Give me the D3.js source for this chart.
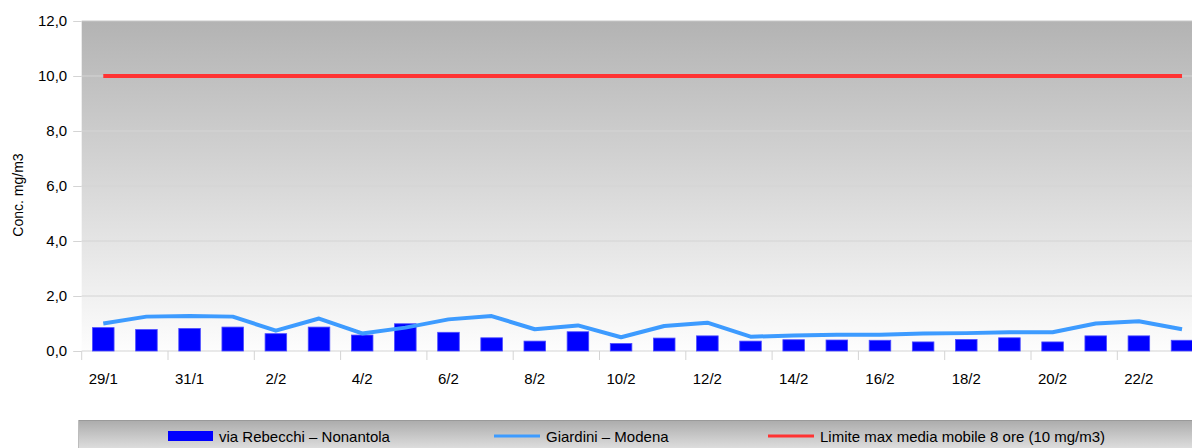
<!DOCTYPE html>
<html lang="it">
<head>
<meta charset="UTF-8">
<title>Conc. mg/m3</title>
<script src="https://cdn.jsdelivr.net/npm/d3@7"></script>
<style>
  body { margin: 0; background: #fff; }
  text { font-family: "Liberation Sans", Arial, sans-serif; fill: #000; }
</style>
</head>
<body>
<script>
// giorni (29/1 - 23/2)
const dates = ["29/1","30/1","31/1","1/2","2/2","3/2","4/2","5/2","6/2","7/2","8/2","9/2","10/2",
  "11/2","12/2","13/2","14/2","15/2","16/2","17/2","18/2","19/2","20/2","21/2","22/2","23/2"];

// via Rebecchi - Nonantola (barre)
const rebecchi = [0.85,0.78,0.82,0.87,0.63,0.87,0.58,0.99,0.68,0.48,0.36,0.70,0.27,
  0.47,0.55,0.36,0.41,0.40,0.39,0.33,0.42,0.48,0.33,0.55,0.55,0.39];

// Giardini - Modena (linea)
const giardini = [1.00,1.25,1.27,1.25,0.74,1.18,0.64,0.85,1.15,1.27,0.79,0.93,0.50,
  0.91,1.03,0.52,0.56,0.59,0.59,0.64,0.65,0.68,0.68,1.00,1.08,0.79];

// limite 10 mg/m3
const limite = dates.map(function () { return 10; });

const yTicks = [0, 2, 4, 6, 8, 10, 12];

const w = 1192, h = 448;
const pLeft = 81.7, pRight = 1203.6, pTop = 21, pBottom = 351;

const svg = d3.select("body").append("svg")
    .attr("width", w)
    .attr("height", h);

const defs = svg.append("defs");
const wall = defs.append("linearGradient").attr("id", "wall")
    .attr("x1", 0).attr("y1", 0).attr("x2", 0).attr("y2", 1);
wall.append("stop").attr("offset", "0%").attr("stop-color", "#b3b3b3");
wall.append("stop").attr("offset", "100%").attr("stop-color", "#fdfdfd");

const leg = defs.append("linearGradient").attr("id", "leg")
    .attr("x1", 0).attr("y1", 0).attr("x2", 0).attr("y2", 1);
leg.append("stop").attr("offset", "0%").attr("stop-color", "#ababab");
leg.append("stop").attr("offset", "100%").attr("stop-color", "#f2f2f2");

// scale
const xScale = d3.scaleBand()
    .domain(dates)
    .range([pLeft, pRight])
    .paddingInner(0.5)
    .paddingOuter(0.25);

const step = xScale.step();
const cx = function (d) { return xScale(d) + xScale.bandwidth() / 2; };

const yScale = d3.scaleLinear()
    .domain([0, 12])
    .range([pBottom, pTop]);

// sfondo area grafico
svg.append("rect")
    .attr("x", pLeft).attr("y", pTop)
    .attr("width", pRight - pLeft).attr("height", pBottom - pTop)
    .attr("fill", "url(#wall)");

// griglia
svg.append("g").selectAll("line")
    .data(yTicks)
    .enter().append("line")
    .attr("x1", pLeft).attr("x2", pRight)
    .attr("y1", function (d) { return yScale(d); })
    .attr("y2", function (d) { return yScale(d); })
    .attr("stroke", function (d) { return d === 12 ? "#c8c8c8" : "#d4d4d4"; })
    .attr("stroke-width", 1);

// asse y
const yAxis = svg.append("g")
    .attr("transform", "translate(" + pLeft + ",0)")
    .call(d3.axisLeft(yScale)
        .tickValues(yTicks)
        .tickSize(8.5)
        .tickPadding(6)
        .tickFormat(function (d) { return d.toFixed(1).replace(".", ","); }));
yAxis.select(".domain").remove();
yAxis.selectAll(".tick line").attr("stroke", "#d4d4d4");
yAxis.selectAll(".tick text").attr("font-size", "15px").attr("fill", "#000")
    .attr("font-family", "Liberation Sans, Arial, sans-serif");

// asse x: tacche ai bordi delle categorie, etichette al centro
const labelDates = dates.filter(function (d, i) { return i % 2 === 0; });
svg.append("g").selectAll("line")
    .data(labelDates)
    .enter().append("line")
    .attr("x1", function (d) { return xScale(d) - (step - xScale.bandwidth()) / 2; })
    .attr("x2", function (d) { return xScale(d) - (step - xScale.bandwidth()) / 2; })
    .attr("y1", pBottom).attr("y2", pBottom + 9)
    .attr("stroke", "#d4d4d4");

svg.append("g").selectAll("text")
    .data(labelDates)
    .enter().append("text")
    .attr("x", cx)
    .attr("y", pBottom + 32.5)
    .attr("text-anchor", "middle")
    .attr("font-size", "15px")
    .text(function (d) { return d; });

// titolo asse y
svg.append("text")
    .attr("transform", "translate(23,195) rotate(-90)")
    .attr("text-anchor", "middle")
    .attr("font-size", "14px")
    .text("Conc. mg/m3");

// barre via Rebecchi
svg.append("g").selectAll("rect")
    .data(dates)
    .enter().append("rect")
    .attr("x", function (d) { return xScale(d); })
    .attr("y", function (d, i) { return yScale(rebecchi[i]); })
    .attr("width", xScale.bandwidth())
    .attr("height", function (d, i) { return pBottom - yScale(rebecchi[i]); })
    .attr("fill", "#0000ff")
    .attr("stroke", "#4d4dff")
    .attr("stroke-width", 0.8);

const line = d3.line()
    .x(function (d) { return cx(d[0]); })
    .y(function (d) { return yScale(d[1]); });

// Giardini
svg.append("path")
    .datum(d3.zip(dates, giardini))
    .attr("d", line)
    .attr("fill", "none")
    .attr("stroke", "#3d9bff")
    .attr("stroke-width", 4)
    .attr("stroke-linejoin", "round");

// limite
svg.append("path")
    .datum(d3.zip(dates, limite))
    .attr("d", line)
    .attr("fill", "none")
    .attr("stroke", "#ff3333")
    .attr("stroke-width", 4);

// legenda
svg.append("rect")
    .attr("x", 78).attr("y", 420)
    .attr("width", 1200).attr("height", 40)
    .attr("fill", "url(#leg)");
svg.append("line")
    .attr("x1", 78).attr("x2", 1192)
    .attr("y1", 420.5).attr("y2", 420.5)
    .attr("stroke", "#9a9a9a");
svg.append("line")
    .attr("x1", 78.5).attr("x2", 78.5)
    .attr("y1", 420).attr("y2", 448)
    .attr("stroke", "#bdbdbd");

const legendItems = [
  { name: "via Rebecchi – Nonantola", type: "bar", color: "#0000ff", x: 168 },
  { name: "Giardini – Modena", type: "line", color: "#3d9bff", x: 494 },
  { name: "Limite max media mobile 8 ore (10 mg/m3)", type: "line", color: "#ff3333", x: 768 }
];

const li = svg.append("g").selectAll("g")
    .data(legendItems)
    .enter().append("g")
    .attr("transform", function (d) { return "translate(" + d.x + ",0)"; });

li.filter(function (d) { return d.type === "bar"; })
    .append("rect")
    .attr("x", 0).attr("y", 431)
    .attr("width", 45).attr("height", 10)
    .attr("fill", function (d) { return d.color; });

li.filter(function (d) { return d.type === "line"; })
    .append("line")
    .attr("x1", 0).attr("x2", 46)
    .attr("y1", 436).attr("y2", 436)
    .attr("stroke", function (d) { return d.color; })
    .attr("stroke-width", 3);

li.append("text")
    .attr("x", function (d) { return d.type === "bar" ? 51 : 52; })
    .attr("y", 441.7)
    .attr("font-size", "15px")
    .text(function (d) { return d.name; });
</script>
</body>
</html>
